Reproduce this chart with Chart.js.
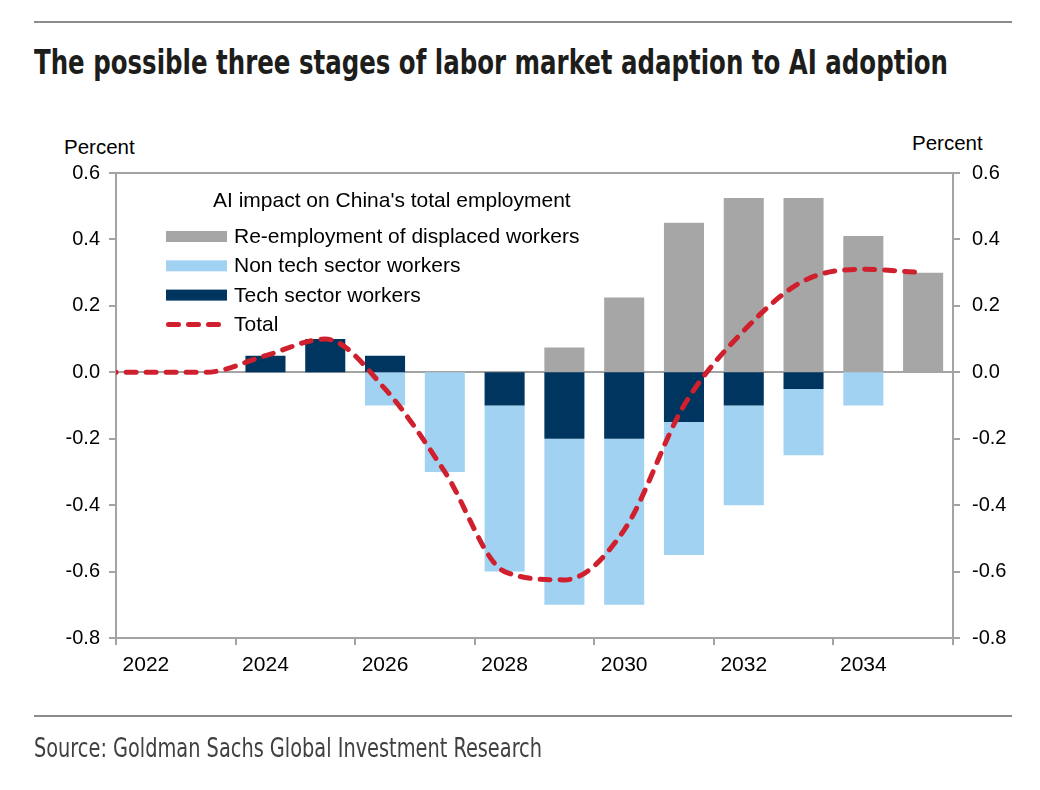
<!DOCTYPE html>
<html lang="en">
<head>
<meta charset="UTF-8">
<title>Labor market adaption to AI adoption</title>
<style>
  body { margin: 0; background: #fff; }
  #page { position: relative; width: 1040px; height: 790px; overflow: hidden; background: #fff;
          font-family: "Liberation Sans", Arial, sans-serif; }
  #chart { position: absolute; left: 0; top: 0; }
  .rule { position: absolute; left: 34px; width: 978px; height: 2px; background: #8c8c8c; }
  #title { position: absolute; left: 34px; top: 46px; margin: 0; white-space: nowrap; color: #1d1d1b;
           transform-origin: 0 0; font: bold 33px/1 "Liberation Sans Narrow", "DejaVu Sans Condensed", sans-serif; }
  .unit { position: absolute; margin: 0; font-size: 20.5px; line-height: 1; color: #000; white-space: nowrap; }
  #source { position: absolute; left: 34px; top: 735px; margin: 0; white-space: nowrap; color: #404040;
            transform-origin: 0 0; font: 26px/1 "Liberation Sans Narrow", "DejaVu Sans Condensed", sans-serif; }
</style>
</head>
<body>
<div id="page">
  <div class="rule" style="top: 21px;"></div>
  <h1 id="title">The possible three stages of labor market adaption to AI adoption</h1>
  <p class="unit" style="left: 64px; top: 137px;">Percent</p>
  <p class="unit" style="left: 912px; top: 133px;">Percent</p>
  <canvas id="chart" width="1040" height="790"></canvas>
  <div class="rule" style="top: 715px;"></div>
  <p id="source">Source: Goldman Sachs Global Investment Research</p>
</div>

<script src="https://cdn.jsdelivr.net/npm/chart.js@4.4.1/dist/chart.umd.min.js"></script>
<script>
    // 2021 is only there so the Total line runs in from the left edge
    const years = ['2021', '2022', '2023', '2024', '2025', '2026', '2027', '2028',
                   '2029', '2030', '2031', '2032', '2033', '2034', '2035'];
    const techSector = [null, null, null, 0.05, 0.1, 0.05, null, -0.1, -0.2, -0.2, -0.15, -0.1, -0.05, null, null];
    const nonTechSector = [null, null, null, null, null, -0.1, -0.3, -0.5, -0.5, -0.5, -0.4, -0.3, -0.2, -0.1, null];
    const reEmployment = [null, null, null, null, null, null, null, null, 0.075, 0.225, 0.45, 0.525, 0.525, 0.41, 0.3];
    const total = [0, 0, 0, 0.05, 0.1, -0.05, -0.3, -0.6, -0.625, -0.475, -0.1, 0.125, 0.275, 0.31, 0.3];

    const GRAY = '#a6a6a6';
    const LIGHT_BLUE = '#a2d2f2';
    const NAVY = '#00355f';
    const RED = '#d0202e';
    const AXIS = '#a3a3a3';
    const DASH = [10, 10];

    // condensed fonts differ, so squeeze title/source to the original width
    function squeeze(id, width) {
        const el = document.getElementById(id);
        const w = el.getBoundingClientRect().width;
        el.style.transform = 'scaleX(' + (width / w) + ')';
    }
    squeeze('title', 914);
    squeeze('source', 508);

    // legend drawn inside the plot area, like the original
    const insideLegend = {
        id: 'insideLegend',
        afterDraw(chart, args, opts) {
            const ctx = chart.ctx;
            ctx.save();
            ctx.font = opts.font;
            ctx.textBaseline = 'alphabetic';
            ctx.fillStyle = '#000';
            ctx.fillText(opts.title, opts.titleX, opts.titleY);
            opts.order.forEach(function (dsIndex, i) {
                const ds = chart.data.datasets[dsIndex];
                const cy = opts.rowY + i * opts.rowGap;
                if (ds.type === 'line') {
                    ctx.strokeStyle = ds.borderColor;
                    ctx.lineWidth = ds.borderWidth;
                    ctx.lineCap = 'round';
                    ctx.setLineDash(DASH);
                    ctx.beginPath();
                    ctx.moveTo(opts.boxX + 2.5, cy);
                    ctx.lineTo(opts.boxX + 52.5, cy);
                    ctx.stroke();
                    ctx.setLineDash([]);
                } else {
                    ctx.fillStyle = ds.backgroundColor;
                    ctx.fillRect(opts.boxX, cy - opts.boxH / 2, opts.boxW, opts.boxH);
                }
                ctx.fillStyle = '#000';
                ctx.fillText(ds.label, opts.textX, cy + 6.5);
            });
            ctx.restore();
        }
    };

    function isZeroOrTop(v) {
        return Math.abs(v) < 1e-9 || Math.abs(v - 0.6) < 1e-9;
    }
    function fmt(v) {
        return (Math.abs(v) < 1e-9 ? 0 : v).toFixed(1);
    }
    const tickFont = { family: '"Liberation Sans", Arial, sans-serif', size: 20 };

    const chart = new Chart(document.getElementById('chart'), {
        type: 'bar',
        data: {
            labels: years,
            datasets: [
                {
                    type: 'line',
                    label: 'Total',
                    data: total,
                    borderColor: RED,
                    borderWidth: 5,
                    borderDash: DASH,
                    borderCapStyle: 'round',
                    pointRadius: 0,
                    cubicInterpolationMode: 'monotone',
                    fill: false,
                    stack: 'totalLine',
                    order: 0,
                    clip: 0
                },
                { label: 'Tech sector workers', data: techSector, backgroundColor: NAVY, order: 1 },
                { label: 'Non tech sector workers', data: nonTechSector, backgroundColor: LIGHT_BLUE, order: 1 },
                { label: 'Re-employment of displaced workers', data: reEmployment, backgroundColor: GRAY, order: 1 }
            ]
        },
        options: {
            responsive: false,
            animation: false,
            events: [],
            datasets: {
                bar: { categoryPercentage: 1, barPercentage: 0.67 }
            },
            layout: { padding: { left: 56, right: 27, top: 173, bottom: 102 } },
            plugins: {
                legend: { display: false },
                tooltip: { enabled: false },
                insideLegend: {
                    title: "AI impact on China's total employment",
                    font: '21px "Liberation Sans", Arial, sans-serif',
                    titleX: 213, titleY: 207,
                    order: [3, 2, 1, 0],
                    boxX: 166, boxW: 61, boxH: 11,
                    textX: 234, rowY: 236.5, rowGap: 29.3
                }
            },
            scales: {
                x: {
                    stacked: true,
                    min: '2022',
                    offset: true,
                    grid: {
                        offset: true,
                        drawOnChartArea: false,
                        tickLength: 7,
                        lineWidth: 2,
                        tickColor: function (ctx) {
                            if (!ctx.tick) return AXIS;
                            return Number(years[ctx.tick.value]) % 2 === 0 ? AXIS : 'transparent';
                        }
                    },
                    border: { color: AXIS, width: 2 },
                    ticks: {
                        autoSkip: false,
                        maxRotation: 0,
                        padding: 8,
                        color: '#000',
                        font: { family: tickFont.family, size: 21 },
                        callback: function (v) {
                            const y = this.getLabelForValue(v);
                            return Number(y) % 2 === 0 ? y : '';
                        }
                    },
                    afterFit: function (s) { s.height = 50; }
                },
                y: {
                    stacked: true,
                    min: -0.8,
                    max: 0.6,
                    grid: {
                        lineWidth: 2,
                        tickLength: 7,
                        tickColor: AXIS,
                        color: function (ctx) {
                            return ctx.tick && isZeroOrTop(ctx.tick.value) ? AXIS : 'transparent';
                        }
                    },
                    border: { color: AXIS, width: 2 },
                    ticks: { stepSize: 0.2, padding: 9, color: '#000', font: tickFont, callback: fmt },
                    afterFit: function (s) { s.width = 60; }
                },
                y2: {
                    position: 'right',
                    min: -0.8,
                    max: 0.6,
                    grid: { drawOnChartArea: false, lineWidth: 2, tickLength: 7, tickColor: AXIS },
                    border: { color: AXIS, width: 2 },
                    ticks: { stepSize: 0.2, padding: 12, color: '#000', font: tickFont, callback: fmt },
                    afterFit: function (s) { s.width = 60; }
                }
            }
        },
        plugins: [insideLegend]
    });
</script>
</body>
</html>
